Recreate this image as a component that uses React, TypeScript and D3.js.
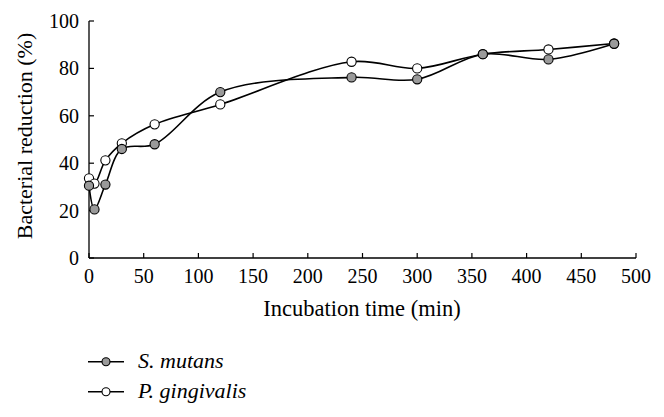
import React from "react";
import * as d3 from "d3";

const times = [0, 5, 15, 30, 60, 120, 240, 300, 360, 420, 480];
const sMutans = [30.5, 20.5, 31, 46, 48, 70, 76.2, 75.4, 86, 83.8, 90.4];
const pGingivalis = [33.6, 31.4, 41.2, 48.4, 56.4, 64.8, 82.8, 80, 86, 88, 90.5];
const xTicks = [0, 50, 100, 150, 200, 250, 300, 350, 400, 450, 500];
const yTicks = [0, 20, 40, 60, 80, 100];
const seriesNames = ["S. mutans", "P. gingivalis"];
const seriesFills = ["#9a9a9a", "#ffffff"];

const W = 664;
const H = 417;
const FONT = "'Liberation Serif', 'DejaVu Serif', serif";

export default function App() {
  const x = d3.scaleLinear().domain([0, 500]).range([89, 636]);
  const y = d3.scaleLinear().domain([0, 100]).range([258, 21]);
  const line = d3
    .line<[number, number]>()
    .x((d) => x(d[0]))
    .y((d) => y(d[1]))
    .curve(d3.curveCatmullRom.alpha(0.5));

  const series = [
    { name: seriesNames[1], vals: pGingivalis, fill: seriesFills[1] },
    { name: seriesNames[0], vals: sMutans, fill: seriesFills[0] },
  ];

  return (
    <svg
      width={W}
      height={H}
      style={{ position: "absolute", left: 0, top: 0, background: "#fff" }}
      fontFamily={FONT}
    >
      <line x1={x(0)} x2={x(0)} y1={y(100)} y2={y(0)} stroke="#000" strokeWidth={1.3} />
      <line x1={x(0)} x2={x(500)} y1={y(0)} y2={y(0)} stroke="#000" strokeWidth={1.3} />
      {yTicks.map((t) => (
        <g key={"y" + t}>
          <line x1={x(0)} x2={x(0) + 5} y1={y(t)} y2={y(t)} stroke="#000" strokeWidth={1.2} />
          <text x={79} y={y(t)} dy="0.35em" textAnchor="end" fontSize={20}>
            {t}
          </text>
        </g>
      ))}
      {xTicks.map((t) => (
        <g key={"x" + t}>
          <line x1={x(t)} x2={x(t)} y1={y(0)} y2={y(0) - 5} stroke="#000" strokeWidth={1.2} />
          <text x={x(t)} y={282.5} textAnchor="middle" fontSize={20}>
            {t}
          </text>
        </g>
      ))}
      <text x={362} y={316} textAnchor="middle" fontSize={22.5}>
        Incubation time (min)
      </text>
      <text
        transform={`translate(32,136) rotate(-90)`}
        textAnchor="middle"
        fontSize={22}
      >
        Bacterial reduction (%)
      </text>

      {series.map((s) => {
        const pts: [number, number][] = times.map((t, i) => [t, s.vals[i]]);
        return (
          <g key={s.name}>
            <path d={line(pts) || ""} fill="none" stroke="#000" strokeWidth={1.6} />
            {pts.map((p, i) => (
              <circle
                key={i}
                cx={x(p[0])}
                cy={y(p[1])}
                r={4.6}
                fill={s.fill}
                stroke="#000"
                strokeWidth={1.1}
              />
            ))}
          </g>
        );
      })}

      {seriesNames.map((n, i) => {
        const ly = 361.7 + i * 30;
        return (
          <g key={n}>
            <line x1={88} x2={124} y1={ly} y2={ly} stroke="#000" strokeWidth={1.6} />
            <circle cx={106} cy={ly} r={4} fill={seriesFills[i]} stroke="#000" strokeWidth={1.1} />
            <text x={138} y={ly + 6} fontSize={22} fontStyle="italic">
              {n}
            </text>
          </g>
        );
      })}
    </svg>
  );
}
